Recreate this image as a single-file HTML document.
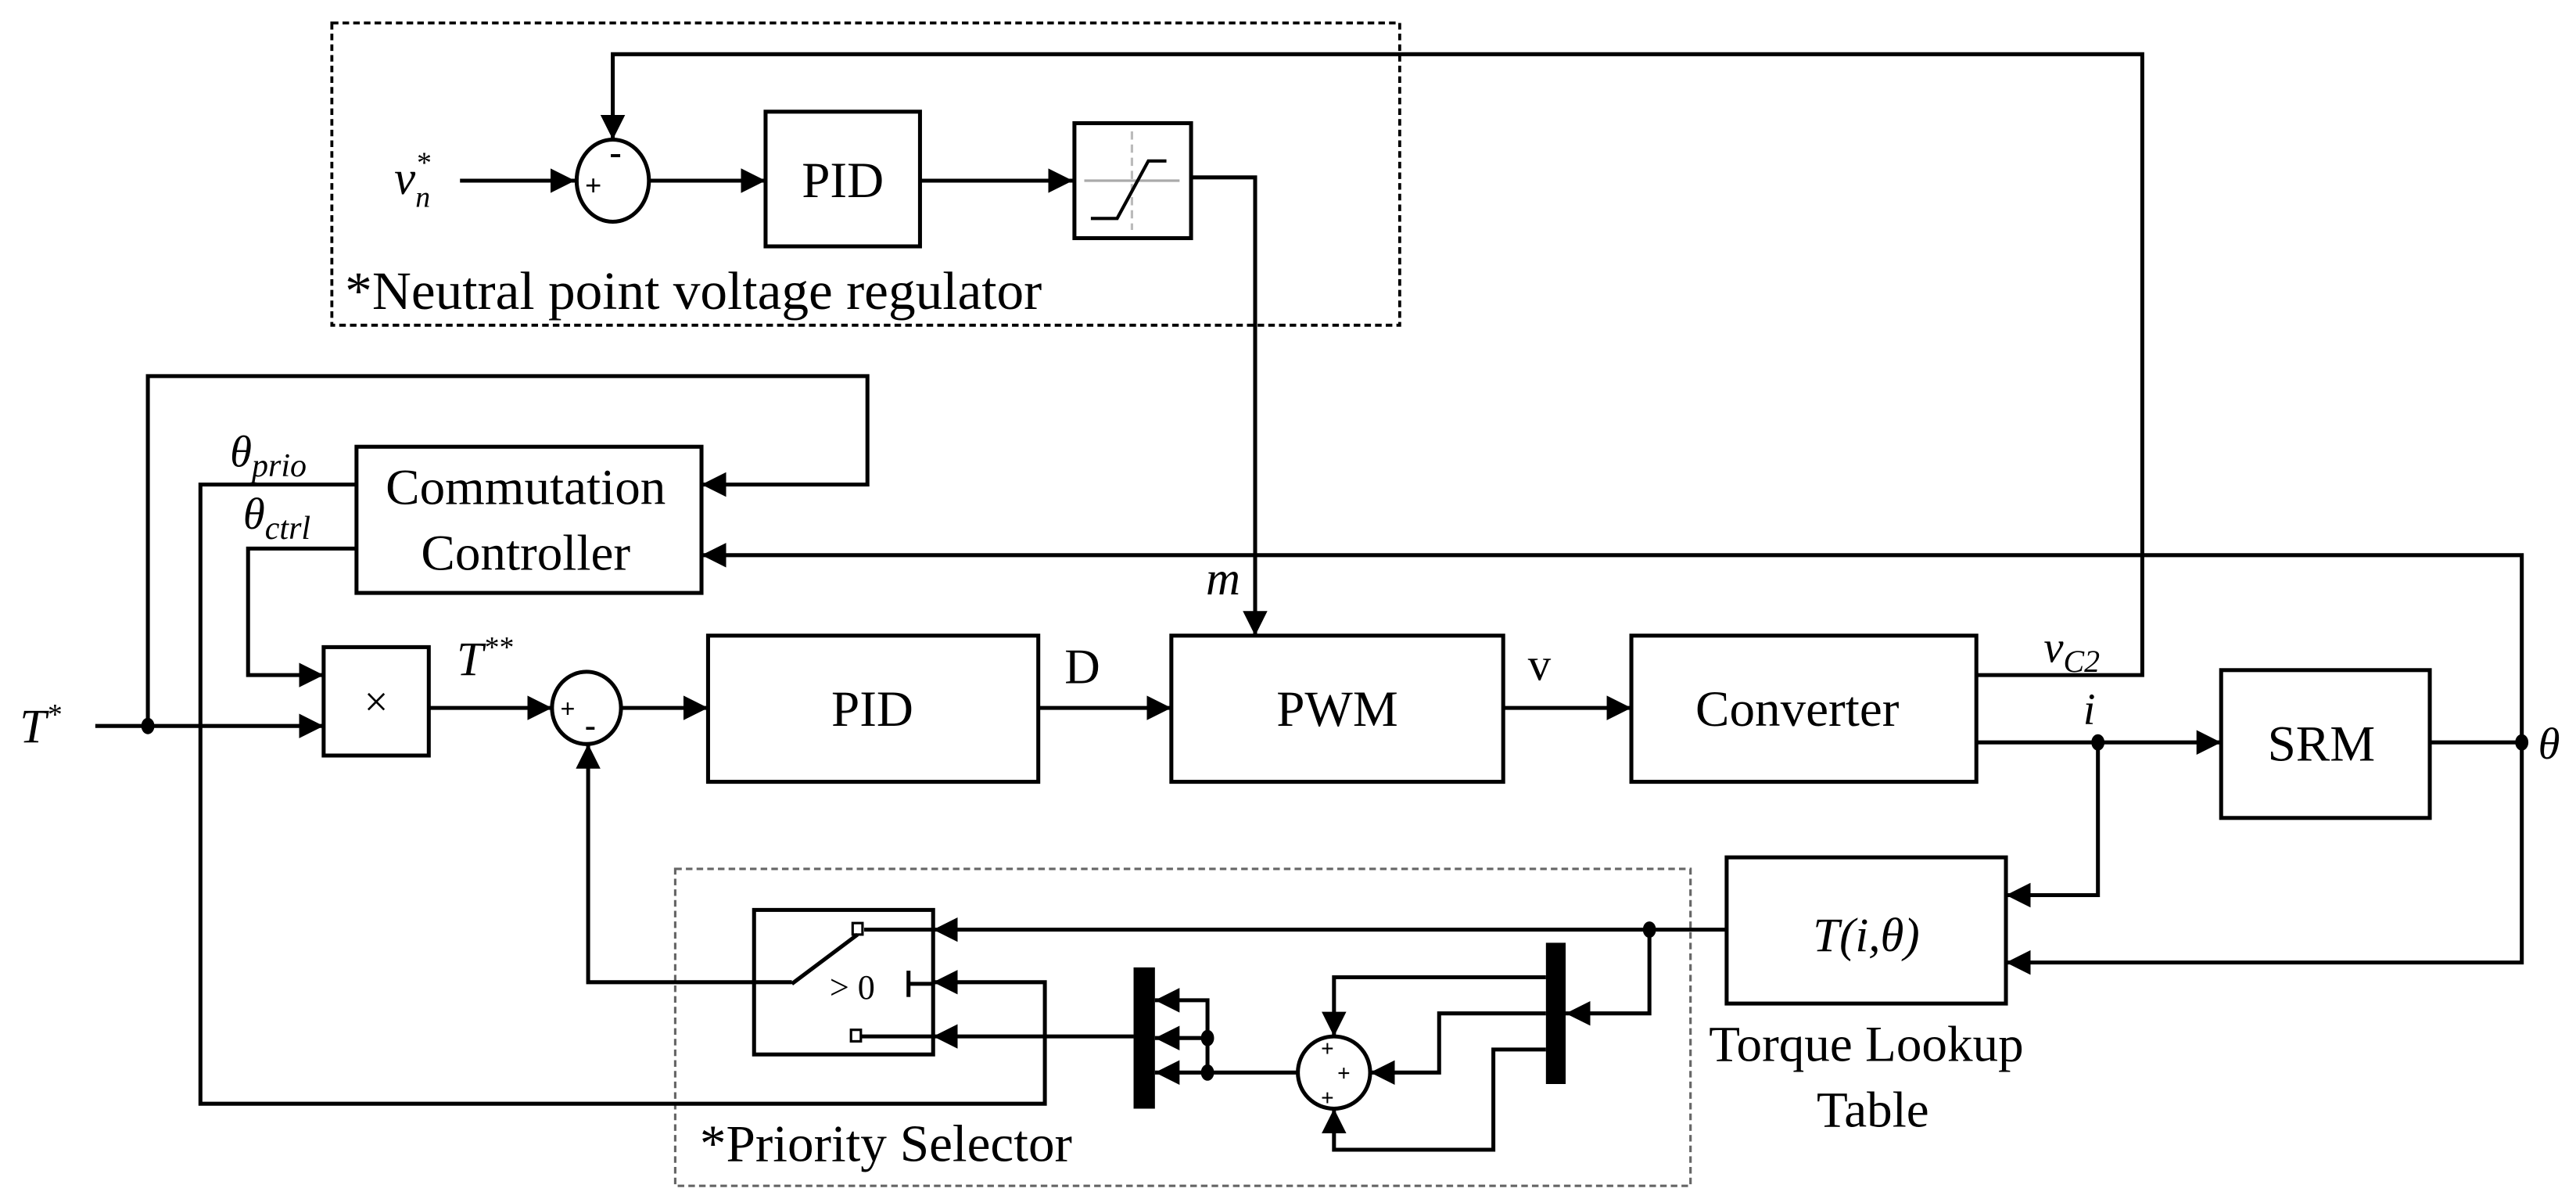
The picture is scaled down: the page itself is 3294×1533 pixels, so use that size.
<!DOCTYPE html>
<html><head><meta charset="utf-8"><style>
html,body{margin:0;padding:0;background:#fff;}
svg{display:block;}
text{font-family:"Liberation Serif",serif;fill:#000;}
.it{font-style:italic;}
</style></head><body>
<svg width="3294" height="1533" viewBox="0 0 1568 730" preserveAspectRatio="none" xmlns="http://www.w3.org/2000/svg">
<defs>
<marker id="a" markerUnits="userSpaceOnUse" markerWidth="18" markerHeight="18" refX="15" refY="7.5" orient="auto">
<path d="M0,0 L15,7.5 L0,15 Z" fill="#000"/></marker>
</defs>
<g fill="none" stroke="#000" stroke-width="2.4">
<rect x="202" y="14" width="650" height="184" stroke-dasharray="4,2.5" stroke-width="1.8"/>
<rect x="411" y="529" width="618" height="193" stroke="#666" stroke-dasharray="4,2.5" stroke-width="1.5"/>

<line x1="280" y1="110" x2="350" y2="110" marker-end="url(#a)"/>
<ellipse cx="373" cy="110" rx="22" ry="25"/>
<line x1="395" y1="110" x2="466" y2="110" marker-end="url(#a)"/>
<rect x="466" y="68" width="94" height="82"/>
<line x1="560" y1="110" x2="653" y2="110" marker-end="url(#a)"/>
<rect x="654" y="75" width="71" height="70"/>
<polyline points="725,108 764,108 764,387" marker-end="url(#a)"/>
<polyline points="1203,411 1304,411 1304,33 373,33 373,85" marker-end="url(#a)"/>

<polyline points="90,442 90,229 528,229 528,295 427,295" marker-end="url(#a)"/>
<rect x="217" y="272" width="210" height="89"/>
<polyline points="1535,452 1535,338 427,338" marker-end="url(#a)"/>
<polyline points="217,295 122,295 122,672 636,672 636,598 568,598" marker-end="url(#a)"/>
<polyline points="217,334 151,334 151,411 197,411" marker-end="url(#a)"/>

<line x1="58" y1="442" x2="197" y2="442" marker-end="url(#a)"/>
<rect x="197" y="394" width="64" height="66"/>
<line x1="261" y1="431" x2="336" y2="431" marker-end="url(#a)"/>
<ellipse cx="357" cy="431" rx="21" ry="22"/>
<line x1="378" y1="431" x2="431" y2="431" marker-end="url(#a)"/>
<rect x="431" y="387" width="201" height="89"/>
<line x1="632" y1="431" x2="713" y2="431" marker-end="url(#a)"/>
<rect x="713" y="387" width="202" height="89"/>
<line x1="915" y1="431" x2="993" y2="431" marker-end="url(#a)"/>
<rect x="993" y="387" width="210" height="89"/>
<line x1="1203" y1="452" x2="1352" y2="452" marker-end="url(#a)"/>
<rect x="1352" y="408" width="127" height="90"/>
<line x1="1479" y1="452" x2="1535" y2="452"/>
<polyline points="1535,452 1535,586 1221,586" marker-end="url(#a)"/>
<polyline points="1277,452 1277,545 1221,545" marker-end="url(#a)"/>
<rect x="1051" y="522" width="170" height="89"/>

<line x1="1051" y1="566" x2="568" y2="566" marker-end="url(#a)"/>
<polyline points="1004,566 1004,617 953,617" marker-end="url(#a)"/>
<polyline points="941,595 812,595 812,631" marker-end="url(#a)"/>
<polyline points="941,617 876,617 876,653 834,653" marker-end="url(#a)"/>
<polyline points="941,639 909,639 909,700 812,700 812,675" marker-end="url(#a)"/>
<ellipse cx="812" cy="653" rx="22" ry="22"/>
<line x1="790" y1="653" x2="703" y2="653" marker-end="url(#a)"/>
<polyline points="735,653 735,632 703,632" marker-end="url(#a)"/>
<polyline points="735,632 735,609 703,609" marker-end="url(#a)"/>
<line x1="690" y1="631" x2="568" y2="631" marker-end="url(#a)"/>
<rect x="459" y="554" width="109" height="88"/>
<line x1="568" y1="566" x2="526" y2="566"/>
<line x1="568" y1="631" x2="524" y2="631"/>
<rect x="519" y="562" width="6" height="7" stroke-width="1.5"/>
<rect x="518" y="627" width="6" height="7" stroke-width="1.5"/>
<line x1="522" y1="569" x2="482" y2="599"/>
<polyline points="482,598 358,598 358,453" marker-end="url(#a)"/>
<line x1="553" y1="591" x2="553" y2="607"/>
<line x1="553" y1="599" x2="568" y2="599"/>
</g>
<g>
<line x1="660" y1="110" x2="718" y2="110" stroke="#aaa" stroke-width="1.5"/>
<line x1="689" y1="80" x2="689" y2="140" stroke="#bbb" stroke-width="1.5" stroke-dasharray="5,3"/>
<polyline points="664,133 680,133 699,98 710,98" fill="none" stroke="#000" stroke-width="2"/>
</g>
<rect x="690" y="589" width="13" height="86" fill="#000"/>
<rect x="941" y="574" width="12" height="86" fill="#000"/>
<g fill="#000">
<ellipse cx="90" cy="442" rx="4" ry="5"/>
<ellipse cx="1277" cy="452" rx="4" ry="5"/>
<ellipse cx="1535" cy="452" rx="4" ry="5"/>
<ellipse cx="1004" cy="566" rx="4" ry="5"/>
<ellipse cx="735" cy="653" rx="4" ry="5"/>
<ellipse cx="735" cy="632" rx="4" ry="5"/>
</g>
<g font-family="Liberation Sans" font-weight="bold">
<text x="356" y="119" font-size="18">+</text>
<text x="371" y="100" font-size="22">-</text>
<text x="341" y="437" font-size="16">+</text>
<text x="356" y="448" font-size="20">-</text>
<text x="804" y="643" font-size="14">+</text>
<text x="814" y="658" font-size="14">+</text>
<text x="804" y="673" font-size="14">+</text>
</g>
<text x="513" y="120" font-size="31" text-anchor="middle">PID</text>
<text x="210" y="188" font-size="33">*Neutral point voltage regulator</text>
<text x="320" y="307" font-size="31" text-anchor="middle">Commutation</text>
<text x="320" y="347" font-size="31" text-anchor="middle">Controller</text>
<text x="229" y="436" font-size="26" text-anchor="middle">×</text>
<text x="531" y="442" font-size="31" text-anchor="middle">PID</text>
<text x="814" y="442" font-size="31" text-anchor="middle">PWM</text>
<text x="1094" y="442" font-size="31" text-anchor="middle">Converter</text>
<text x="1413" y="463" font-size="31" text-anchor="middle">SRM</text>
<text x="1136" y="579" font-size="29" text-anchor="middle" class="it">T(i,θ)</text>
<text x="1136" y="646" font-size="31" text-anchor="middle">Torque Lookup</text>
<text x="1140" y="686" font-size="31" text-anchor="middle">Table</text>
<text x="426" y="707" font-size="32">*Priority Selector</text>
<text x="505" y="608" font-size="21">&gt; 0</text>
<text x="648" y="416" font-size="30">D</text>
<text x="930" y="414" font-size="28">v</text>
<text x="734" y="362" font-size="29" class="it">m</text>
<text x="12" y="452" font-size="29" class="it">T<tspan font-size="18" dy="-11">*</tspan></text>
<text x="278" y="411" font-size="29" class="it">T<tspan font-size="18" dy="-11">**</tspan></text>
<text x="240" y="118" font-size="29" class="it">v<tspan font-size="18" dy="8">n</tspan><tspan font-size="18" dx="-9" dy="-21">*</tspan></text>
<text x="140" y="284" font-size="27" class="it">θ<tspan font-size="20" dy="6">prio</tspan></text>
<text x="148" y="322" font-size="27" class="it">θ<tspan font-size="20" dy="6">ctrl</tspan></text>
<text x="1244" y="403" font-size="27" class="it">v<tspan font-size="19" dy="6">C2</tspan></text>
<text x="1268" y="441" font-size="27" class="it">i</text>
<text x="1545" y="462" font-size="27" class="it">θ</text>
</svg>
</body></html>
